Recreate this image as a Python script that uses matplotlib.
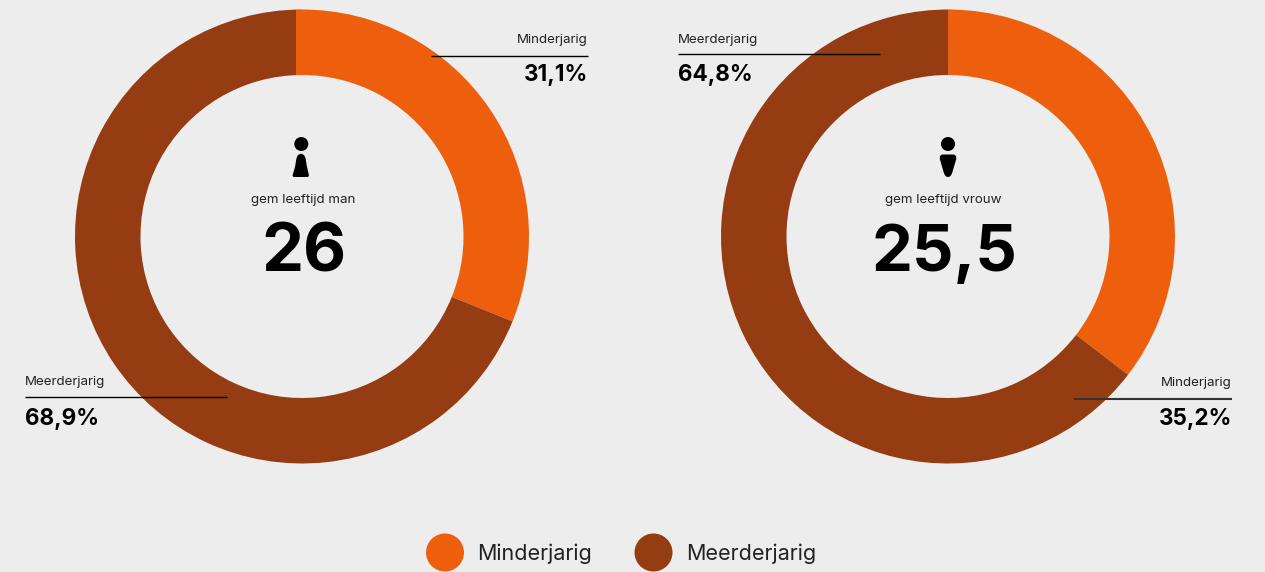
import matplotlib
matplotlib.use('Agg')
import matplotlib.pyplot as plt
from matplotlib.patches import Circle, Polygon, Rectangle

W, H = 1265, 572
BG = '#ededed'
ORANGE = '#ee5f0d'
BROWN = '#963c12'

categories = ['Minderjarig', 'Meerderjarig']
man_values = [31.1, 68.9]
vrouw_values = [35.2, 64.8]
man_title = 'gem leeftijd man'
vrouw_title = 'gem leeftijd vrouw'
man_age = '26'
vrouw_age = '25,5'

plt.rcParams['font.family'] = ['Inter', 'DejaVu Sans']

fig = plt.figure(figsize=(W / 100, H / 100), dpi=100, facecolor=BG)
# overlay in pixel coords for labels
ov = fig.add_axes([0, 0, 1, 1], zorder=5)
ov.set_xlim(0, W)
ov.set_ylim(H, 0)
ov.axis('off')


def donut(values, cx, cy, r, start=90, seam=0):
    ax = fig.add_axes([(cx - r) / W, 1 - (cy + r) / H, 2 * r / W, 2 * r / H])
    wedges, _ = ax.pie(values, colors=[ORANGE, BROWN], startangle=start, counterclock=False,
                       radius=1, wedgeprops={'width': 65.5 / r, 'linewidth': 0})
    ax.set_xlim(-1, 1)
    ax.set_ylim(-1, 1)
    ax.set_aspect('equal')
    ax.axis('off')
    # the reference has a straight upright seam at the top of the ring
    fill = Rectangle((seam / r, 0), 12 / r, 1, color=ORANGE, lw=0)
    ax.add_patch(fill)
    fill.set_clip_path(wedges[1])


def callout(x0, x1, y, name, value, side, name_y, value_y, lw=1.0, color='black'):
    ov.plot([x0, x1], [y, y], color=color, lw=lw, solid_capstyle='butt')
    tx = x1 if side == 'right' else x0
    ov.text(tx, name_y, name, fontsize=9.6, ha=side, va='center', color='#222222')
    ov.text(tx, value_y, f'{value:.1f}%'.replace('.', ','), fontsize=16.2, fontweight='bold',
            ha=side, va='center', color='black')


donut(man_values, 302, 236.5, 227, seam=-6)
donut(vrouw_values, 948, 236.5, 227, start=89.2)

callout(431, 588, 56, categories[0], man_values[0], 'right', 40, 74.5)
callout(25, 227, 396.5, categories[1], man_values[1], 'left', 382, 418.5)
callout(678, 880, 53.5, categories[1], vrouw_values[1], 'left', 40, 74.5)
callout(1074, 1232, 399, categories[0], vrouw_values[0], 'right', 383, 418.5, lw=1.5, color='#333333')

# centre texts
ov.text(303.5, 200, man_title, fontsize=9.6, ha='center', va='center', color='#222222')
ov.text(943.5, 200, vrouw_title, fontsize=9.6, ha='center', va='center', color='#222222')
ov.text(304, 254, man_age, fontsize=48, fontweight='bold', ha='center', va='center', color='black')
ov.text(944, 254, vrouw_age, fontsize=46.8, fontweight='bold', ha='center', va='center', color='black')

# icons
ov.add_patch(Circle((301.3, 144), 7, color='black', lw=0))
ov.add_patch(Polygon([[292.5, 175.5], [293.5, 177], [308, 177], [309, 175.5], [307, 167], [305.5, 158],
                      [304, 155], [301, 153.5], [298, 155], [296.5, 158], [295, 167]],
                     closed=True, color='black', lw=0))
ov.add_patch(Circle((948, 144), 7, color='black', lw=0))
ov.add_patch(Polygon([[942, 154.5], [954, 154.5], [956, 156], [956.3, 159], [951.8, 174], [950, 176.5], [948, 177],
                      [946, 176.5], [944.2, 174], [939.8, 159], [940, 156]],
                     closed=True, color='black', lw=0))

# legend
ov.add_patch(Circle((445, 552.5), 19, color=ORANGE, lw=0))
ov.add_patch(Circle((653.5, 552.5), 19, color=BROWN, lw=0))
ov.text(477, 553.5, categories[0], fontsize=15.5, ha='left', va='center', color='#222222')
ov.text(686, 553.5, categories[1], fontsize=15.5, ha='left', va='center', color='#222222')

fig.savefig('out.png', dpi=100, facecolor=BG)
